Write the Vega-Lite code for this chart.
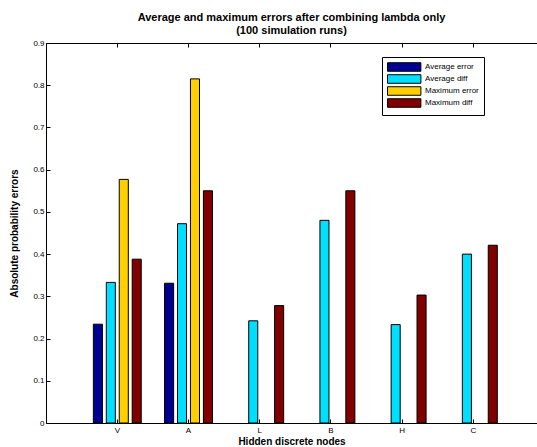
{
  "$schema": "https://vega.github.io/schema/vega-lite/v6.json",
  "width": 491,
  "height": 380,
  "autosize": "none",
  "padding": {"left": 46, "top": 43, "right": 0, "bottom": 24},
  "background": "white",
  "config": {
    "view": {"stroke": "black", "strokeWidth": 1},
    "font": "Liberation Sans"
  },
  "title": {
    "text": ["Average and maximum errors after combining lambda only", "(100 simulation runs)"],
    "fontSize": 11,
    "fontWeight": "bold",
    "font": "Liberation Sans",
    "color": "black",
    "anchor": "middle",
    "frame": "group",
    "offset": 3,
    "lineHeight": 13
  },
  "data": {
    "values": [
      {"node": "V", "series": "Average error", "value": 0.234},
      {"node": "V", "series": "Average diff", "value": 0.333},
      {"node": "V", "series": "Maximum error", "value": 0.577},
      {"node": "V", "series": "Maximum diff", "value": 0.388},
      {"node": "A", "series": "Average error", "value": 0.331},
      {"node": "A", "series": "Average diff", "value": 0.472},
      {"node": "A", "series": "Maximum error", "value": 0.815},
      {"node": "A", "series": "Maximum diff", "value": 0.55},
      {"node": "L", "series": "Average error", "value": 0},
      {"node": "L", "series": "Average diff", "value": 0.242},
      {"node": "L", "series": "Maximum error", "value": 0},
      {"node": "L", "series": "Maximum diff", "value": 0.278},
      {"node": "B", "series": "Average error", "value": 0},
      {"node": "B", "series": "Average diff", "value": 0.48},
      {"node": "B", "series": "Maximum error", "value": 0},
      {"node": "B", "series": "Maximum diff", "value": 0.55},
      {"node": "H", "series": "Average error", "value": 0},
      {"node": "H", "series": "Average diff", "value": 0.233},
      {"node": "H", "series": "Maximum error", "value": 0},
      {"node": "H", "series": "Maximum diff", "value": 0.303},
      {"node": "C", "series": "Average error", "value": 0},
      {"node": "C", "series": "Average diff", "value": 0.4},
      {"node": "C", "series": "Maximum error", "value": 0},
      {"node": "C", "series": "Maximum diff", "value": 0.421}
    ]
  },
  "layer": [
    {
      "mark": {"type": "bar", "stroke": "black", "strokeWidth": 1},
      "encoding": {
        "x": {
          "field": "node",
          "type": "nominal",
          "sort": ["V", "A", "L", "B", "H", "C"],
          "scale": {"paddingInner": 0.273, "paddingOuter": 0.584, "align": 0.546},
          "axis": {
            "orient": "bottom",
            "title": "Hidden discrete nodes",
            "titleFontSize": 10,
            "titleFontWeight": "bold",
            "titleColor": "black",
            "titlePadding": 2,
            "labelAngle": 0,
            "labelFontSize": 8,
            "labelColor": "black",
            "labelPadding": 7,
            "tickSize": -4,
            "tickColor": "black",
            "domainColor": "black",
            "grid": false
          }
        },
        "xOffset": {
          "field": "series",
          "type": "nominal",
          "sort": ["Average error", "Average diff", "Maximum error", "Maximum diff"],
          "scale": {"paddingInner": 0.3, "paddingOuter": 0.15}
        },
        "y": {
          "field": "value",
          "type": "quantitative",
          "scale": {"domain": [0, 0.9], "nice": false},
          "axis": {
            "title": "Absolute probability errors",
            "titleFontSize": 10,
            "titleFontWeight": "bold",
            "titleColor": "black",
            "titlePadding": 13,
            "values": [0, 0.1, 0.2, 0.3, 0.4, 0.5, 0.6, 0.7, 0.8, 0.9],
            "format": "~g",
            "labelFontSize": 8,
            "labelColor": "black",
            "labelPadding": 6,
            "tickSize": -4,
            "tickColor": "black",
            "domainColor": "black",
            "grid": false
          }
        },
        "strokeOpacity": {
          "condition": {"test": "datum.value > 0", "value": 1},
          "value": 0
        },
        "color": {
          "field": "series",
          "type": "nominal",
          "sort": ["Average error", "Average diff", "Maximum error", "Maximum diff"],
          "scale": {
            "domain": ["Average error", "Average diff", "Maximum error", "Maximum diff"],
            "range": ["#000090", "#00DFFF", "#FFCF00", "#800000"]
          },
          "legend": {
            "orient": "none",
            "legendX": 336,
            "legendY": 14,
            "title": null,
            "strokeColor": "black",
            "fillColor": "white",
            "padding": 5,
            "symbolType": "M-1,-0.95H6.42V0.95H-1Z",
            "symbolSize": 81,
            "symbolStrokeColor": "black",
            "symbolStrokeWidth": 1,
            "symbolOpacity": 1,
            "labelFontSize": 8,
            "labelColor": "black",
            "labelOffset": 28,
            "rowPadding": -2
          }
        }
      }
    },
    {
      "mark": {"type": "rule", "opacity": 0},
      "encoding": {
        "x": {
          "field": "node",
          "type": "nominal",
          "sort": ["V", "A", "L", "B", "H", "C"],
          "axis": {
            "orient": "top",
            "title": null,
            "labels": false,
            "tickSize": -4,
            "tickColor": "black",
            "domainColor": "black",
            "grid": false
          }
        }
      }
    }
  ],
  "resolve": {"axis": {"x": "independent"}}
}
